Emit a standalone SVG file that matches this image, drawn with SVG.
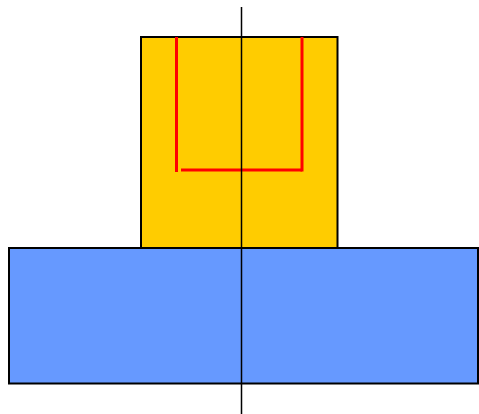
<svg xmlns="http://www.w3.org/2000/svg" width="479" height="414" viewBox="0 0 479 414">
<style>
.box{stroke:#000;stroke-width:2}
.red{stroke:#ff0000;stroke-width:3;fill:none}
</style>
<rect width="479" height="414" fill="#fff"/>
<g id="base"><rect class="box" x="9" y="248" width="469" height="135.5" fill="#6699ff"/></g>
<g id="top"><rect class="box" x="141" y="37" width="196.5" height="211" fill="#ffcc00"/></g>
<g id="shape">
<line class="red" x1="176.5" y1="37" x2="176.5" y2="172"/>
<line class="red" x1="181" y1="170" x2="302" y2="170"/>
<line class="red" x1="302" y1="37" x2="302" y2="171.5"/>
</g>
<g id="connectors"><line x1="241.5" y1="7" x2="241.5" y2="414" stroke="#000" stroke-width="1.5"/></g>
</svg>
